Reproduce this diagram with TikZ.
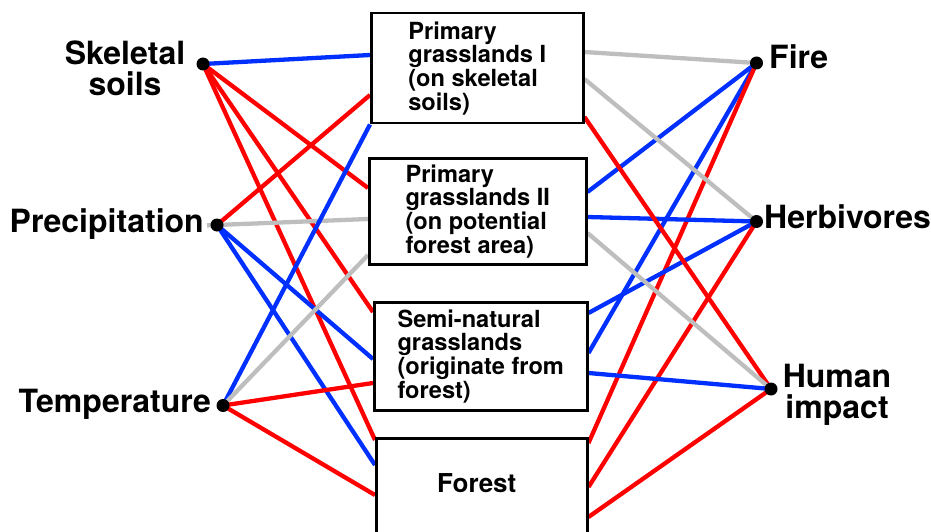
\documentclass[tikz,border=0pt]{standalone}
\usepackage{fontspec}
\setmainfont{TeX Gyre Heros}
\usetikzlibrary{backgrounds}
\definecolor{lblue}{RGB}{0,48,255}
\definecolor{lred}{RGB}{255,0,0}
\definecolor{lgray}{RGB}{190,190,190}
\begin{document}
\begin{tikzpicture}[x=1pt,y=-1pt,
  box/.style={draw=black, line width=2.5pt, fill=white, anchor=north west, inner sep=0pt, align=left, font=\fontsize{23.6}{23.7}\selectfont\bfseries},
  dot/.style={circle, fill=black, minimum size=13pt, inner sep=0pt},
  lab/.style={font=\fontsize{32}{31}\selectfont\bfseries, inner sep=0pt},
  rl/.style={line width=4.3pt, lred},
  bl/.style={line width=4.3pt, lblue},
  gl/.style={line width=4.3pt, lgray}]
\useasboundingbox (0,0) rectangle (931,532);
% boxes
\node[box, minimum width=212pt, minimum height=110pt] (b1) at (370,12) {Primary\\grasslands I\\(on skeletal\\soils)};
\node[box, minimum width=217pt, minimum height=106pt] (b2) at (368,157) {Primary\\grasslands II\\(on potential\\forest area)};
\node[box, minimum width=213pt, minimum height=108pt] (b3) at (373,301) {Semi-natural\\grasslands\\(originate from\\forest)};
\node[box, minimum width=211pt, minimum height=110pt,
  label={[font=\fontsize{26}{26}\selectfont\bfseries, inner sep=0pt, xshift=-5pt, yshift=10.5pt]center:Forest}] (b4) at (375,437) {};
% dots
\node[dot] (ss) at (203,64) {};
\node[dot] (pr) at (217,225) {};
\node[dot] (te) at (223,405.5) {};
\node[dot] (fi) at (756.5,63) {};
\node[dot] (he) at (756.5,221.5) {};
\node[dot] (hu) at (771,389) {};
% labels
\node[lab, align=center] (sst) at (125,68.5) {Skeletal\\soils};
\node[lab, anchor=base east] (prt) at (204,232) {Precipitation};
\node[lab, anchor=base east] (tet) at (211,412) {Temperature};
\node[lab, anchor=base west] (fit) at (769,69) {Fire};
\node[lab, anchor=base west] (het) at (764,228) {Herbivores};
\node[lab, align=center] (hut) at (837,395) {Human\\impact};
% connectors
\begin{scope}[on background layer]
\draw[bl] (ss.center) -- ([yshift=-43pt]b1.north west);
\draw[rl] (ss.center) -- ([yshift=-31pt]b2.north west);
\draw[rl] (ss.center) -- ([yshift=-11pt]b3.north west);
\draw[rl] (ss.center) -- ([yshift=-3pt]b4.north west);
\draw[rl] (pr.center) -- ([yshift=-83pt]b1.north west);
\draw[gl, shorten <=-10pt] (pr.center) -- ([yshift=-62pt]b2.north west);
\draw[bl] (pr.center) -- ([yshift=-58pt]b3.north west);
\draw[bl] (pr.center) -- ([yshift=-28pt]b4.north west);
\draw[bl] (te.center) -- (b1.south west);
\draw[gl] (te.center) -- ([yshift=-98pt]b2.north west);
\draw[rl] (te.center) -- ([yshift=-82pt]b3.north west);
\draw[rl] (te.center) -- ([yshift=-58pt]b4.north west);
\draw[gl] ([yshift=-40pt]b1.north east) -- (fi.center);
\draw[bl] ([yshift=-35pt]b2.north east) -- (fi.center);
\draw[bl] ([yshift=-52pt]b3.north east) -- (fi.center);
\draw[rl] ([yshift=-6pt]b4.north east) -- (fi.center);
\draw[gl] ([yshift=-67pt]b1.north east) -- (he.center);
\draw[bl] ([yshift=-60pt]b2.north east) -- (he.center);
\draw[bl] ([yshift=-12pt]b3.north east) -- (he.center);
\draw[rl] ([yshift=-50pt]b4.north east) -- (he.center);
\draw[rl] ([yshift=-105pt]b1.north east) -- (hu.center);
\draw[gl] ([yshift=-76pt]b2.north east) -- (hu.center);
\draw[bl] ([yshift=-72pt]b3.north east) -- (hu.center);
\draw[rl] ([yshift=-80pt]b4.north east) -- (hu.center);
\end{scope}
\end{tikzpicture}
\end{document}
